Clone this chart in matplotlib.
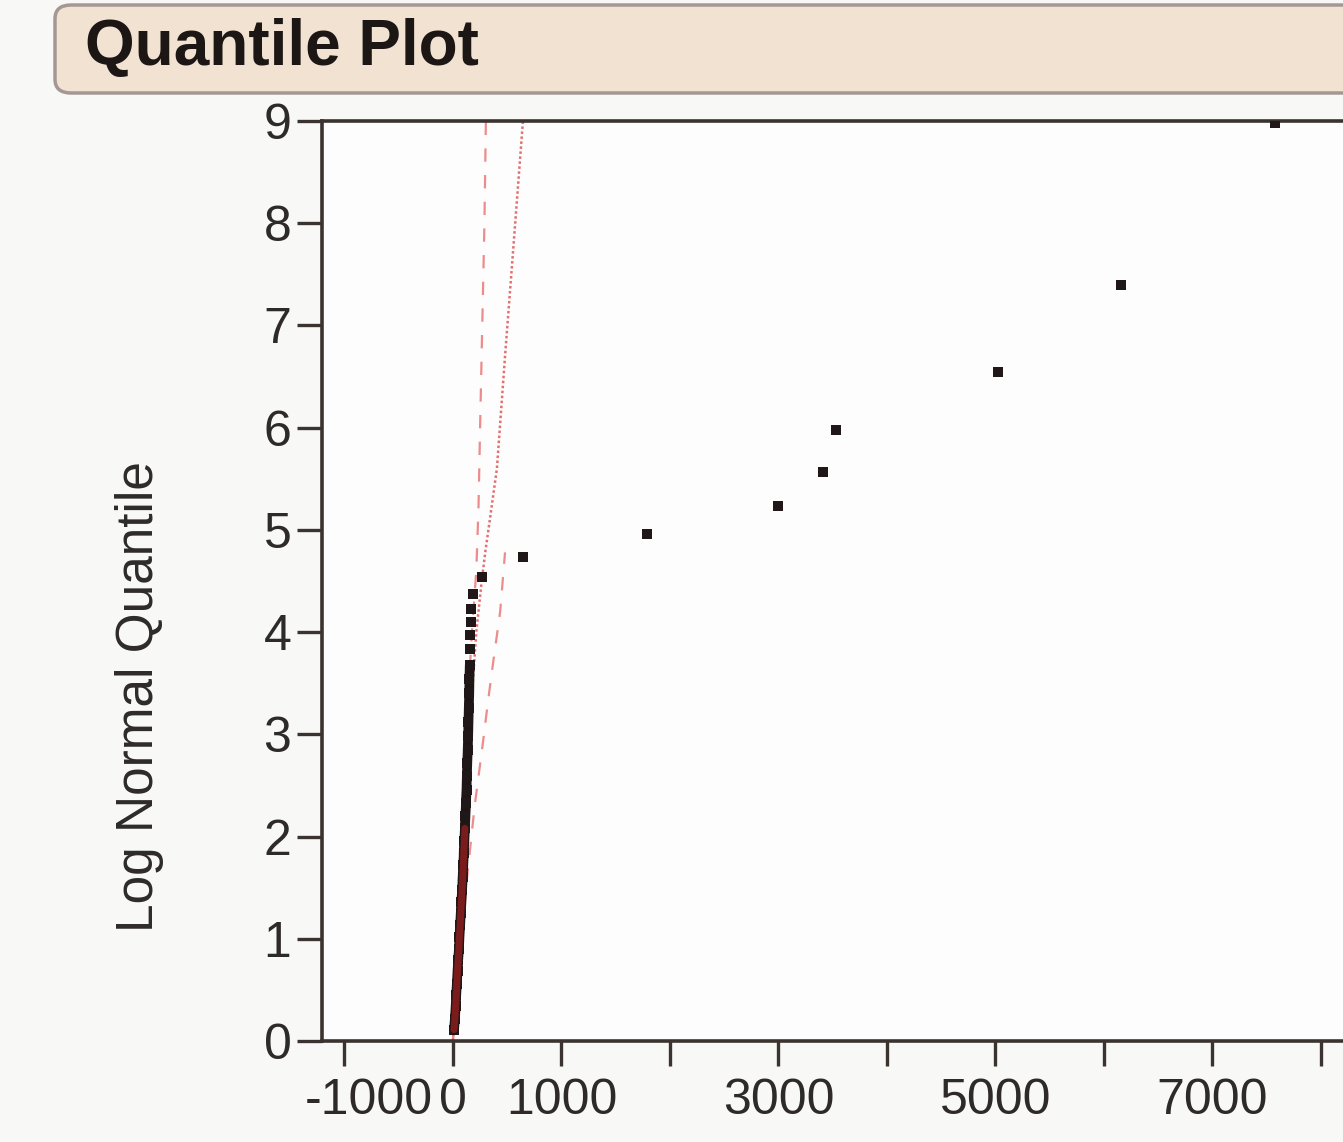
import matplotlib
matplotlib.use("Agg")
import matplotlib.pyplot as plt
from matplotlib.patches import FancyBboxPatch
import matplotlib.transforms as mtransforms

plt.rcParams['font.family'] = ['Liberation Sans', 'DejaVu Sans']

# dense column of observations near zero
col_x = [10, 18, 25, 30, 36, 42, 48, 55, 60, 66, 72, 78, 84, 90, 95, 100, 105, 110,
         115, 120, 125, 128, 132, 136, 140, 143, 146, 150, 152, 155, 158, 160, 165, 170, 184]
col_y = [0.11, 0.22, 0.34, 0.45, 0.56, 0.68, 0.79, 0.90, 1.02, 1.13, 1.25, 1.36, 1.48,
         1.60, 1.72, 1.84, 1.96, 2.08, 2.20, 2.33, 2.46, 2.59, 2.72, 2.85, 2.98, 3.12,
         3.26, 3.40, 3.54, 3.68, 3.83, 3.97, 4.10, 4.23, 4.37]

# sparse large observations
big_x = [267, 645, 1788, 2995, 3410, 3530, 5023, 6157, 7576]
big_y = [4.54, 4.73, 4.96, 5.23, 5.57, 5.98, 6.54, 7.40, 8.98]

# fitted log normal line and confidence bands
fit_x = [0, 40, 90, 150, 215, 265, 300, 340, 405, 480, 545, 645, 700]
fit_y = [0.0, 1.0, 2.0, 3.0, 4.0, 4.5, 4.8, 5.1, 5.6, 6.7, 7.6, 9.0, 9.5]
lo_x = [0, 30, 70, 120, 175, 215, 235, 250, 268, 290, 310]
lo_y = [0.0, 1.0, 2.0, 3.0, 4.0, 4.6, 5.2, 6.0, 6.9, 8.0, 9.5]
hi_x = [0, 60, 130, 200, 280, 325, 370, 435, 480]
hi_y = [0.0, 0.8, 1.6, 2.3, 2.95, 3.34, 3.70, 4.20, 4.78]

y_ticks = list(range(0, 10))
x_ticks = [-1000, 0, 1000, 2000, 3000, 4000, 5000, 6000, 7000, 8000]
x_labels = ['-1000', '0', '1000', '', '3000', '', '5000', '', '7000', '']

W, H = 1343, 1142
fig = plt.figure(figsize=(W / 100, H / 100), dpi=100)
fig.patch.set_facecolor('#f8f8f7')

# title bar
box = FancyBboxPatch((55 / W, 1 - 93 / H), 1.2, 88 / H,
                     boxstyle="round,pad=0,rounding_size=0.012",
                     transform=fig.transFigure, facecolor='#f1e2d2',
                     edgecolor='#a39893', linewidth=2.5, clip_on=False)
fig.patches.append(box)
fig.text(85 / W, 1 - 48 / H, 'Quantile Plot', fontsize=46, fontweight='bold',
         color='#1c1614', va='center', ha='left')

ax = fig.add_axes([322 / W, 1 - 1041 / H, 1.0 - 322 / W, (1041 - 121) / H])
ax.set_facecolor('#fdfdfd')
ax.set_xlim(-1207, 8203)
ax.set_ylim(0, 9)

ax.plot(lo_x, lo_y, color='#ec8c8c', lw=1.6, ls=(0, (6, 6)), zorder=2)
ax.plot(hi_x, hi_y, color='#ec8c8c', lw=1.6, ls=(0, (6, 6)), zorder=2)
ax.plot(fit_x, fit_y, color='#e27070', lw=1.8, ls=(0, (1, 1)), zorder=2)

# the column of points merges into a solid streak
ax.plot(col_x[:30], col_y[:30], color='#1e1515', lw=7, solid_capstyle='round', zorder=3)
ax.plot(col_x[:18], col_y[:18], color='#7a1c1c', lw=5, solid_capstyle='round', zorder=4)
ax.scatter(col_x, col_y, s=50, marker='s', color='#201818', zorder=3, linewidths=0)
ax.scatter(big_x, big_y, s=50, marker='s', color='#201818', zorder=3, linewidths=0)

for side in ['right']:
    ax.spines[side].set_visible(False)
for side in ['left', 'bottom', 'top']:
    ax.spines[side].set_color('#3b3330')
    ax.spines[side].set_linewidth(2.6)

ax.set_yticks(y_ticks)
ax.set_xticks(x_ticks)
ax.set_xticklabels(x_labels)
ax.tick_params(axis='both', colors='#3b3330', width=2.4, length=18,
               labelsize=36, labelcolor='#2e2a2a')
ax.tick_params(axis='y', pad=4)
ax.tick_params(axis='x', pad=9)

# JMP draws the -1000 label pushed right against the 0 label
lbl = ax.get_xticklabels()[0]
lbl.set_transform(lbl.get_transform() +
                  mtransforms.ScaledTranslation(0.24, 0, fig.dpi_scale_trans))

fig.text(140 / W, 1 - 697 / H, 'Log Normal Quantile', rotation=90, fontsize=37,
         color='#2e2a2a', ha='center', va='center')

fig.savefig('out.png', dpi=100, facecolor=fig.get_facecolor())
